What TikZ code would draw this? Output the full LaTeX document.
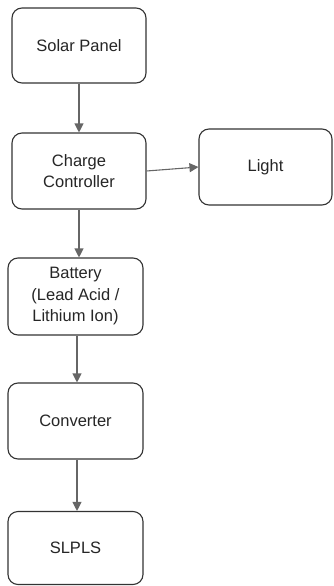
\documentclass[tikz,border=0pt]{standalone}
\usepackage{fontspec}
\setmainfont{Liberation Sans}
\usetikzlibrary{arrows.meta}
\definecolor{boxline}{HTML}{333333}
\definecolor{arrline}{HTML}{666666}
\begin{document}
\begin{tikzpicture}[x=1pt,y=-1pt,
  blk/.style={draw=boxline, line width=1.1pt, rounded corners=10pt, fill=white,
    inner sep=0pt, align=center, font=\fontsize{16.5}{21.5}\selectfont, text=black!85},
  conn/.style={draw=arrline, line width=1.1pt, -{Triangle[length=9pt,width=9pt]}}]
\useasboundingbox (0,0) rectangle (333,586);
\node[blk, minimum width=134pt, minimum height=75pt] (sp) at (79,45.5) {Solar Panel};
\node[blk, minimum width=134pt, minimum height=76pt] (cc) at (79,171) {Charge\\Controller};
\node[blk, minimum width=133pt, minimum height=76pt] (li) at (265.5,167) {Light};
\node[blk, minimum width=135pt, minimum height=77pt] (ba) at (75.5,296.5) {Battery\\(Lead Acid /\\Lithium Ion)};
\node[blk, minimum width=135pt, minimum height=76pt] (cv) at (75.5,421) {Converter};
\node[blk, minimum width=135pt, minimum height=73pt] (sl) at (75.5,548) {SLPLS};
\draw[conn] (sp.south) -- (cc.north);
\draw[conn] (cc.east) -- (li.west);
\draw[conn] (cc.south) -- (cc.south |- ba.north);
\draw[conn] ([xshift=1.5pt]ba.south) -- ([xshift=1.5pt]cv.north);
\draw[conn] ([xshift=1.5pt]cv.south) -- ([xshift=1.5pt]sl.north);
\end{tikzpicture}
\end{document}
